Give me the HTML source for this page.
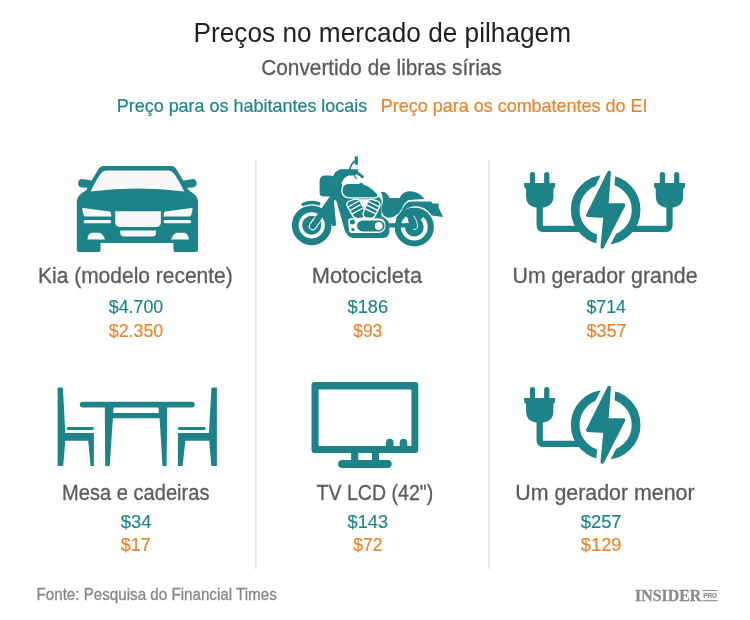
<!DOCTYPE html>
<html lang="pt">
<head>
<meta charset="utf-8">
<title>Preços no mercado de pilhagem</title>
<style>
html,body{margin:0;padding:0;background:#fff;}
body{width:750px;height:620px;overflow:hidden;font-family:"Liberation Sans",sans-serif;}
svg{display:block;position:absolute;left:0;top:0;}
text{font-family:"Liberation Sans",sans-serif;}
.t{fill:#1d8388;}
.o{fill:#e8842c;}
.g{fill:#5a5b5e;}
.w{fill:#f6f8f8;}
</style>
</head>
<body>
<svg width="750" height="620" viewBox="0 0 750 620">
<rect width="750" height="620" fill="#ffffff"/>

<!-- headings -->
<text x="193.5" y="42" font-size="27.4" fill="#231f20" textLength="377.53" lengthAdjust="spacingAndGlyphs">Preços no mercado de pilhagem</text>
<text x="261.25" y="75.3" font-size="21.4" fill="#5a5b5e" textLength="240.51" lengthAdjust="spacingAndGlyphs" stroke="#5a5b5e" stroke-width="0.3">Convertido de libras sírias</text>
<text x="116.75" y="111.5" font-size="18.6" fill="#1d8388" textLength="250.51" lengthAdjust="spacingAndGlyphs" stroke="#1d8388" stroke-width="0.2">Preço para os habitantes locais</text>
<text x="380.75" y="111.5" font-size="18.6" fill="#e8842c" textLength="266.78" lengthAdjust="spacingAndGlyphs" stroke="#e8842c" stroke-width="0.2">Preço para os combatentes do EI</text>

<!-- separators -->
<rect x="254.7" y="160" width="2" height="409" fill="#e9ebeb"/>
<rect x="487.9" y="160" width="2" height="409" fill="#e9ebeb"/>

<!-- ICONS -->
<g id="car">
<path id="carh" class="t" d="M138,166 H103.6 Q100.6,166 99,168.3 L91.6,180.5 L82.2,179 A4.3,4.3 0 0 0 81.6,187.5 L87.6,187.8 L86.2,190.3 Q77,195.5 76.8,201 V249.9 Q76.8,251.9 78.8,251.9 H98.6 Q100.6,251.9 100.6,249.9 V243.1 H138 Z"/>
<use href="#carh" transform="translate(274.8,0) scale(-1,1)"/>
<path class="w" d="M107,170.6 H167.8 Q172.2,170.8 175.4,175.4 Q179.6,181.6 184.2,191.6 Q137.4,185.4 90.6,191.6 Q95.2,181.6 99.4,175.4 Q102.6,170.8 107,170.6 Z"/>
<g id="carl" class="w">
<path d="M83.4,208.1 L109.4,211.5 Q110.9,211.8 111,213.4 L111.3,216.6 H86 Q84,216.6 83.4,214.4 L82.2,209.4 Q82,207.9 83.4,208.1 Z"/>
<rect x="83.6" y="220" width="27.6" height="3.3" rx="1.6"/>
</g>
<path class="w" d="M87.4,239.6 Q87.6,234.4 91.4,232.7 H99.4 Q103.6,234 104.9,239.6 Z"/>
<path class="w" d="M171.2,239.6 Q172.5,234 176.7,232.7 H184.7 Q188.5,234.4 188.9,239.6 Z"/>
<use href="#carl" transform="translate(274.8,0) scale(-1,1)"/>
<path class="w" d="M115.2,211.3 H160.9 V222 Q160.9,227 155.9,227 H120.2 Q115.2,227 115.2,222 Z"/>
<path class="w" d="M120.3,230.5 H156 V233 Q156,236.6 152,236.6 H124.3 Q120.3,236.6 120.3,233 Z"/>
<rect class="t" x="173.4" y="240" width="8" height="11.9" rx="2"/>
</g><!--/car-->
<g id="moto">
<!-- wheels -->
<circle cx="311.7" cy="225.3" r="19.9" fill="#1d8388"/>
<circle cx="311.7" cy="225.3" r="13.1" fill="#ffffff"/>
<circle cx="311.7" cy="225.3" r="9.5" fill="#1d8388"/>
<circle cx="414.3" cy="227.0" r="19.6" fill="#1d8388"/>
<circle cx="414.3" cy="227.0" r="13.4" fill="#ffffff"/>
<circle cx="414.3" cy="227.0" r="9.4" fill="#1d8388"/>
<path fill="#1d8388" d="M424.34,215.85 A15,15 0 0 0 405.07,215.18 L409.37,220.70 A8,8 0 0 1 419.65,221.05 Z"/>
<!-- front fender -->
<path d="M303.20,204.25 A22.7,22.7 0 0 1 318.71,203.71" fill="none" stroke="#1d8388" stroke-width="3.5" stroke-linecap="round"/>
<!-- fork: white outline inside hub only -->
<clipPath id="hubc"><circle cx="311.7" cy="225.3" r="8.6"/></clipPath>
<path d="M312.7,226.3 L333,197" fill="none" stroke="#ffffff" stroke-width="8" stroke-linecap="round" clip-path="url(#hubc)"/>
<path d="M312.7,226.3 L333,197" fill="none" stroke="#1d8388" stroke-width="5.8" stroke-linecap="round"/>
<!-- web between fork and strut -->
<path fill="#1d8388" d="M329,199 H333 V224 H331.4 L325,213 Z"/>
<!-- strut -->
<path d="M330,200 H333.8 L336.1,224.4 Q336,226.2 334,226.2 Q332,226.2 331.8,224.4 Z" fill="#1d8388"/>
<!-- headlight -->
<path fill="#1d8388" d="M325.4,175.6 H330 Q334,175.6 334,180 V196.5 H323.4 Q319.6,196.5 319.6,192.8 V181.4 Q319.6,175.6 325.4,175.6 Z"/>
<!-- frame -->
<path fill="#1d8388" d="M339.8,169.3 H357.9 V173.8 L354,175.5 H348.5 Q343.2,177.5 341.4,183.5 L343,187 H362 L378,196 L381.5,200 V216 L386,219 Q389.4,222 389.4,226 V231 Q389.4,237.9 382.5,237.9 H353 Q349.5,237.9 347.5,235 L344.8,230.7 L340.8,216.2 L336.7,201.7 L333,197.5 L331,186 Q331.5,172.5 339.8,169.4 Z"/>
<!-- swingarm -->
<rect x="386" y="223.2" width="24" height="4.3" fill="#1d8388"/>
<!-- mirror + handlebar -->
<rect x="354.7" y="156.3" width="3.2" height="8.3" fill="#1d8388"/>
<path d="M355.3,160.8 Q350.8,163.6 349.8,170" fill="none" stroke="#1d8388" stroke-width="1.6"/>
<path d="M356.5,172.2 L362.6,176.8" fill="none" stroke="#1d8388" stroke-width="2.7" stroke-linecap="round"/>
<path d="M354.6,175.6 Q355,177.6 356.4,178.6" fill="none" stroke="#1d8388" stroke-width="1.2" stroke-linecap="round"/>
<!-- tank -->
<path fill="#1d8388" stroke="#ffffff" stroke-width="1.3" d="M347.5,183.4 H358.8 L359.6,182.2 Q361.4,181.6 363,182.6 L363.4,183.8 Q371.5,186.5 377.8,194 Q379,197.6 375.5,197.9 H348.5 Q342.1,197 341.9,190.5 Q341.9,184.2 347.5,183.4 Z"/>
<!-- cylinders with white outline -->
<g fill="#1d8388" stroke="#ffffff" stroke-width="1.3" stroke-linejoin="round">
<path d="M349.4,201 L355,199.2 Q358.6,198.6 360.4,201.8 L365.6,211.6 Q367.6,216 363.6,218 L358.4,218.6 Q354.6,219 352.6,215.6 L347.2,206 Q345.8,202.6 349.4,201 Z"/>
<path d="M371.6,199.4 L377.4,201 Q380.8,202.6 379.8,206.4 L375.4,215.4 Q373.4,218.8 369.6,218.2 L365.4,217.6 Q362,215.8 363.6,211.8 L367.6,201.8 Q368.8,199 371.6,199.4 Z"/>
</g>
<path fill="#ffffff" d="M358.6,199.2 H369.2 L363.8,208.4 Z"/>
<g stroke="#ffffff" stroke-width="1.3" fill="none">
<path d="M347.4,207.4 L358.6,201 M349.4,210.8 L360.6,204.6 M351.4,214.4 L362.6,208.2"/>
<path d="M368.6,201.6 L379.6,207 M367,205.2 L378,210.6 M365.4,208.8 L376.4,214.2"/>
</g>
<!-- gearbox -->
<path fill="#ffffff" d="M351,218.2 H378 Q385.5,218.2 385.5,225.6 Q385.5,233 378,233 H352 Q349.2,233 348.9,230 L348.2,221 Q348.2,218.2 351,218.2 Z"/>
<rect x="357" y="220.6" width="27.6" height="10.8" rx="5.4" fill="#1d8388"/>
<circle cx="378.7" cy="226" r="3.9" fill="#ffffff"/>
<circle cx="352.4" cy="222.1" r="2.5" fill="#1d8388"/>
<circle cx="352.9" cy="229.6" r="1.7" fill="#1d8388"/>
<!-- seat + body -->
<path fill="#1d8388" stroke="#ffffff" stroke-width="0.0" d="M381,192.6 Q383.6,190.8 386.4,193.4 Q388.6,195.6 389.8,198 H399.6 Q402.4,191.6 409.4,191.3 Q418.5,191 424.7,199.2 L408.4,200 Q403.4,203.6 401,209 Q398,214.5 393,217 Q388.5,218.8 385,216.6 Q380.4,213 382,206 Q384.2,199 381,192.6 Z"/>
<!-- rear fender -->
<path fill="#1d8388" d="M396,219 Q398,209.5 404.4,204.4 Q407,201.5 411,201.5 H431.2 L432.4,203.6 H438.7 V207.7 L443.1,217 L431.6,215.6 Q428.6,210.4 423,208 Q414.6,204.6 407,208.6 Q401.6,212 399.6,219 Z"/>
<path fill="none" stroke="#ffffff" stroke-width="1" d="M424.4,199.9 L409.6,200.6 Q404.5,203 402.4,208.4 Q400,213.6 395.3,217.8"/>
<path fill="none" stroke="#ffffff" stroke-width="0.9" d="M410,207.6 Q420.6,204.6 428,211.6 Q430.4,214.2 431.4,216.6"/>
<!-- rear hub details -->
<path d="M414,216.2 Q416.6,219.6 417.6,225 Q417.8,230 413.6,229.4" fill="none" stroke="#ffffff" stroke-width="0.9" stroke-linecap="round"/>
<path fill="#ffffff" d="M403.4,223 Q404.2,219.6 407,217.6 L409,222.8 Z"/>
</g><!--/moto-->
<g id="gen1">
<g transform="translate(0,0)">
<circle cx="605.65" cy="209.9" r="30.45" fill="none" stroke="#1d8388" stroke-width="8.7"/>
<path d="M609.1,172.6 L587.8,215.2 L605.2,216.2 L602.3,247 L623.6,205 L606.8,204.8 Z" fill="#fff" stroke="#fff" stroke-width="12.6" stroke-linejoin="round"/>
<path d="M609.1,172.6 L587.8,215.2 L605.2,216.2 L602.3,247 L623.6,205 L606.8,204.8 Z" class="t" stroke="#1d8388" stroke-width="3.6" stroke-linejoin="round"/>
<g id="plug0" class="t">
<rect x="529.9" y="172" width="5.2" height="13" rx="2.6"/>
<rect x="544.1" y="172" width="5.3" height="13" rx="2.6"/>
<path d="M524.8,183 H554.4 Q555.4,183 555.3,184 L554.8,187.5 Q554.6,188.5 553.4,188.7 V197 Q553.2,205.5 544,207.6 H535.4 Q526.3,205.5 526.1,197 V188.7 Q524.8,188.5 524.5,187.5 L523.9,184 Q523.8,183 524.8,183 Z"/>
<path d="M539.7,205 V224.9 Q539.7,228.9 543.7,228.9 H579.5" fill="none" stroke="#1d8388" stroke-width="6.3"/>
</g>
<use href="#plug0" transform="translate(1209.2,0) scale(-1,1)"/>
</g>
</g><!--/gen1-->
<g id="table">
<g class="t">
<path d="M57.6,387.4 H62.9 L65.3,432.9 H93.9 V466.1 H90.6 L88.2,440.8 H65.3 L63.2,466.1 H57.6 Z"/>
<rect x="66.6" y="426.9" width="27.3" height="3.2" rx="1.6"/>
<path d="M216.9,387.4 H211.4 L209,432.9 H177.9 V466.1 H182.6 L185.4,440.8 H209.2 L211.3,466.1 H216.9 Z"/>
<rect x="177.9" y="426.9" width="27.8" height="3.2" rx="1.6"/>
</g>
<rect class="t" x="79.8" y="401.7" width="114.9" height="5.8" rx="2.9"/>
<path class="t" d="M104.8,404 H113.7 L113.2,412.9 H158.8 L158.5,404 H167.3 L166.6,466.1 H162.5 L159.6,418.2 H112.9 L109.7,466.1 H105.2 Z"/>
</g><!--/table-->
<g id="tv">
<path class="t" fill-rule="evenodd" d="M314.5,382.1 H415.3 Q418.3,382.1 418.3,385.1 V450 Q418.3,453 415.3,453 H314.5 Q311.5,453 311.5,450 V385.1 Q311.5,382.1 314.5,382.1 Z M318.6,389.5 V445.9 H386 V442.5 A3.75,3.75 0 0 1 393.5,442.5 V445.9 H399.7 V442.5 A3.8,3.8 0 0 1 407.3,442.5 V445.9 H411.4 V389.5 Z"/>
<rect class="t" x="351.1" y="452" width="7.1" height="9"/>
<rect class="t" x="371.9" y="452" width="7.1" height="9"/>
<rect class="t" x="338.1" y="460.1" width="53.6" height="7.8" rx="3.9"/>
</g><!--/tv-->
<g id="gen2">
<g transform="translate(0,215)">
<circle cx="605.65" cy="209.9" r="30.45" fill="none" stroke="#1d8388" stroke-width="8.7"/>
<path d="M609.1,172.6 L587.8,215.2 L605.2,216.2 L602.3,247 L623.6,205 L606.8,204.8 Z" fill="#fff" stroke="#fff" stroke-width="12.6" stroke-linejoin="round"/>
<path d="M609.1,172.6 L587.8,215.2 L605.2,216.2 L602.3,247 L623.6,205 L606.8,204.8 Z" class="t" stroke="#1d8388" stroke-width="3.6" stroke-linejoin="round"/>
<g id="plug215" class="t">
<rect x="529.9" y="172" width="5.2" height="13" rx="2.6"/>
<rect x="544.1" y="172" width="5.3" height="13" rx="2.6"/>
<path d="M524.8,183 H554.4 Q555.4,183 555.3,184 L554.8,187.5 Q554.6,188.5 553.4,188.7 V197 Q553.2,205.5 544,207.6 H535.4 Q526.3,205.5 526.1,197 V188.7 Q524.8,188.5 524.5,187.5 L523.9,184 Q523.8,183 524.8,183 Z"/>
<path d="M539.7,205 V224.9 Q539.7,228.9 543.7,228.9 H579.5" fill="none" stroke="#1d8388" stroke-width="6.3"/>
</g>
</g>
</g><!--/gen2-->

<!-- labels row 1 -->
<text x="38.0" y="283.0" font-size="21.4" fill="#5a5b5e" textLength="194.78" lengthAdjust="spacingAndGlyphs" stroke="#5a5b5e" stroke-width="0.3">Kia (modelo recente)</text>
<text x="108.75" y="312.7" font-size="18.6" fill="#1d8388" textLength="54.51" lengthAdjust="spacingAndGlyphs" stroke="#1d8388" stroke-width="0.15">$4.700</text>
<text x="108.75" y="337.3" font-size="18.6" fill="#e8842c" textLength="54.51" lengthAdjust="spacingAndGlyphs" stroke="#e8842c" stroke-width="0.15">$2.350</text>

<text x="311.75" y="283.0" font-size="21.4" fill="#5a5b5e" textLength="110.27" lengthAdjust="spacingAndGlyphs" stroke="#5a5b5e" stroke-width="0.3">Motocicleta</text>
<text x="347.5" y="312.7" font-size="18.6" fill="#1d8388" textLength="40.52" lengthAdjust="spacingAndGlyphs" stroke="#1d8388" stroke-width="0.15">$186</text>
<text x="353.25" y="337.3" font-size="18.6" fill="#e8842c" textLength="29.02" lengthAdjust="spacingAndGlyphs" stroke="#e8842c" stroke-width="0.15">$93</text>

<text x="512.5" y="283.0" font-size="21.4" fill="#5a5b5e" textLength="185.03" lengthAdjust="spacingAndGlyphs" stroke="#5a5b5e" stroke-width="0.3">Um gerador grande</text>
<text x="586.5" y="312.7" font-size="18.6" fill="#1d8388" textLength="39.51" lengthAdjust="spacingAndGlyphs" stroke="#1d8388" stroke-width="0.15">$714</text>
<text x="586.5" y="337.3" font-size="18.6" fill="#e8842c" textLength="40.02" lengthAdjust="spacingAndGlyphs" stroke="#e8842c" stroke-width="0.15">$357</text>

<!-- labels row 2 -->
<text x="62.0" y="500.4" font-size="21.4" fill="#5a5b5e" textLength="147.52" lengthAdjust="spacingAndGlyphs" stroke="#5a5b5e" stroke-width="0.3">Mesa e cadeiras</text>
<text x="120.75" y="528.1" font-size="18.6" fill="#1d8388" textLength="30.76" lengthAdjust="spacingAndGlyphs" stroke="#1d8388" stroke-width="0.15">$34</text>
<text x="120.75" y="551.4" font-size="18.6" fill="#e8842c" textLength="30.04" lengthAdjust="spacingAndGlyphs" stroke="#e8842c" stroke-width="0.15">$17</text>

<text x="316.5" y="500.4" font-size="21.4" fill="#5a5b5e" textLength="116.76" lengthAdjust="spacingAndGlyphs" stroke="#5a5b5e" stroke-width="0.3">TV LCD (42")</text>
<text x="347.5" y="528.1" font-size="18.6" fill="#1d8388" textLength="40.52" lengthAdjust="spacingAndGlyphs" stroke="#1d8388" stroke-width="0.15">$143</text>
<text x="353.25" y="551.4" font-size="18.6" fill="#e8842c" textLength="29.28" lengthAdjust="spacingAndGlyphs" stroke="#e8842c" stroke-width="0.15">$72</text>

<text x="515.25" y="500.4" font-size="21.4" fill="#5a5b5e" textLength="179.26" lengthAdjust="spacingAndGlyphs" stroke="#5a5b5e" stroke-width="0.3">Um gerador menor</text>
<text x="580.75" y="528.1" font-size="18.6" fill="#1d8388" textLength="40.78" lengthAdjust="spacingAndGlyphs" stroke="#1d8388" stroke-width="0.15">$257</text>
<text x="580.75" y="551.4" font-size="18.6" fill="#e8842c" textLength="40.78" lengthAdjust="spacingAndGlyphs" stroke="#e8842c" stroke-width="0.15">$129</text>

<!-- footer -->
<text x="36.5" y="600" font-size="16.4" fill="#858688" textLength="240.26" lengthAdjust="spacingAndGlyphs" stroke="#858688" stroke-width="0.3">Fonte: Pesquisa do Financial Times</text>
<g id="logo">
<text x="635.0" y="601.3" font-size="17.0" fill="#898b8f" textLength="66.25" lengthAdjust="spacingAndGlyphs" style="font-family:'Liberation Serif',serif" font-weight="bold" stroke="#898b8f" stroke-width="0.3">INSIDER</text>
<rect x="702.4" y="589.9" width="15.3" height="1.2" fill="#94969a"/>
<rect x="702.4" y="600.1" width="15.3" height="1.2" fill="#94969a"/>
<text x="703.25" y="597.9" font-size="6.6" fill="#898b8f" textLength="13.76" lengthAdjust="spacingAndGlyphs" font-weight="bold" stroke="#898b8f" stroke-width="0.2">PRO</text>
</g><!--/logo-->
</svg>
</body>
</html>
